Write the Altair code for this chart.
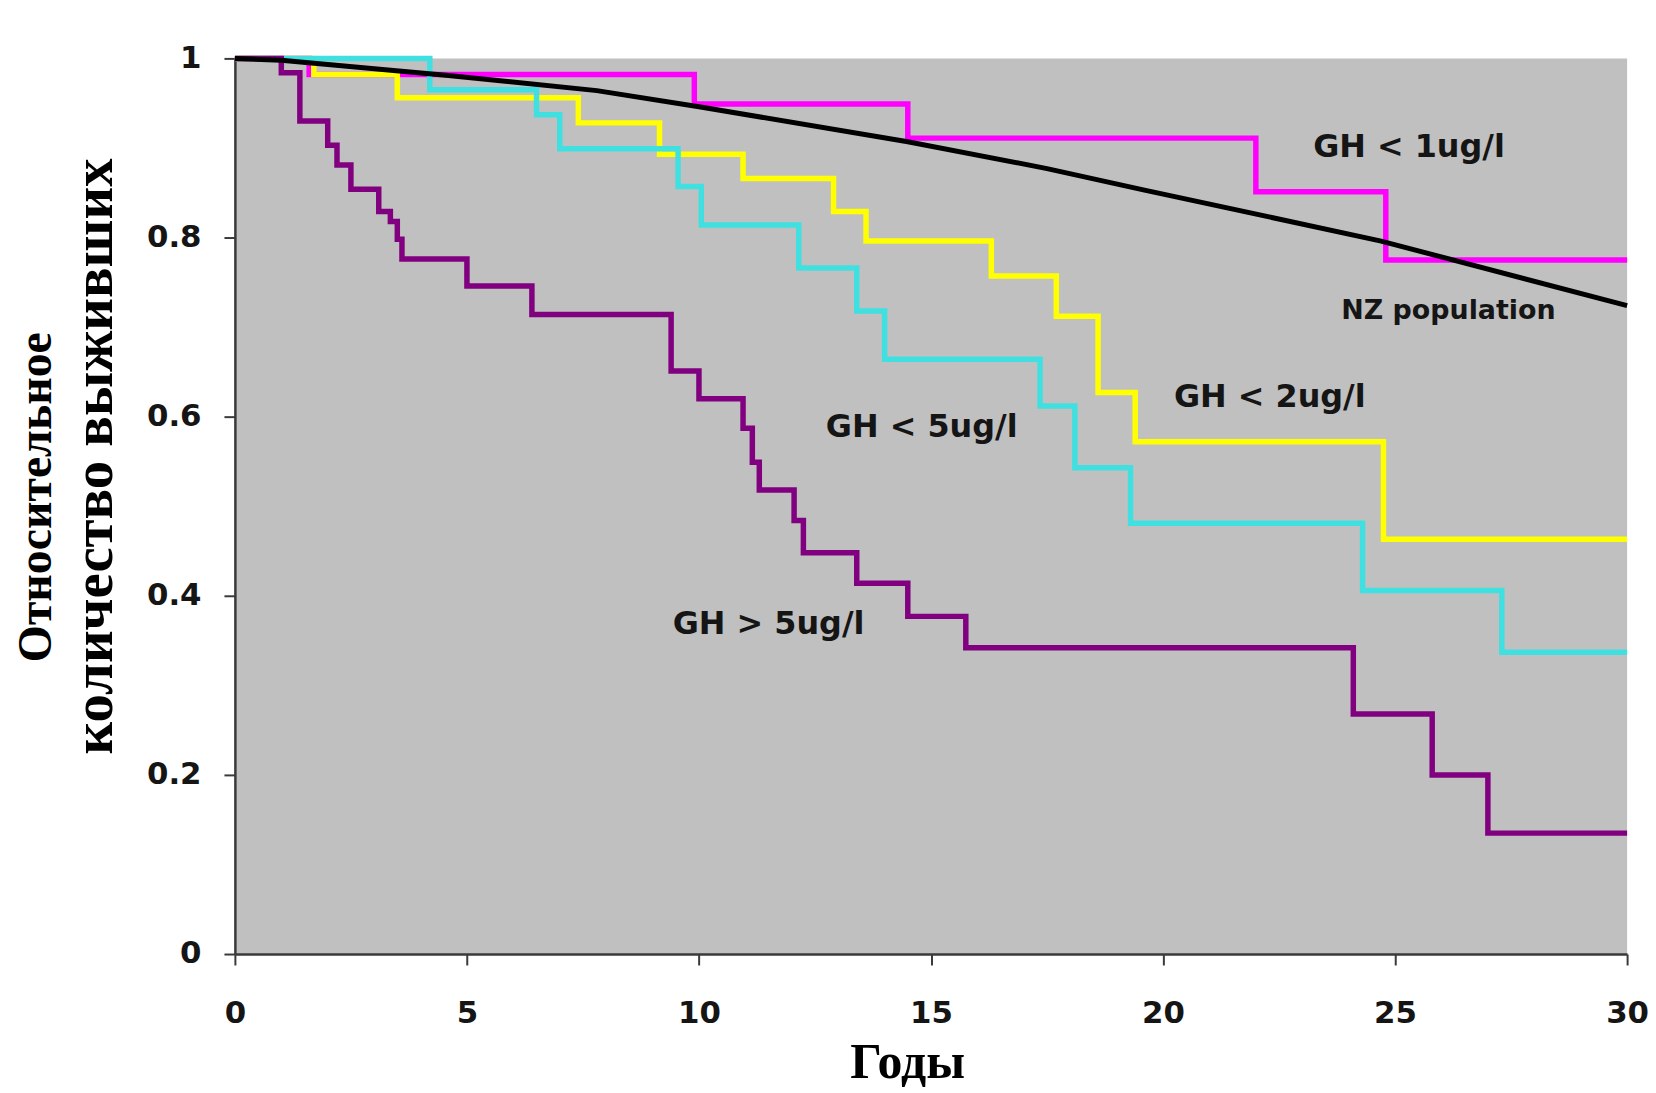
import altair as alt
import pandas as pd

# ---- data ----
series_names = ["GH < 1ug/l", "GH < 2ug/l", "GH < 5ug/l", "GH > 5ug/l"]
series_colors = ["#FF00FF", "#FFFF00", "#40E0E0", "#800080"]

years_gh1 = [0, 1.6, 9.9, 14.5, 22.0, 24.8, 30]
surv_gh1 = [1.0, 0.982, 0.949, 0.911, 0.851, 0.775, 0.775]

years_gh2 = [0, 1.7, 3.5, 7.4, 9.15, 10.95, 12.9, 13.6, 16.3, 17.7, 18.6, 19.4, 24.75, 30]
surv_gh2 = [1.0, 0.982, 0.956, 0.928, 0.893, 0.866, 0.829, 0.796, 0.757, 0.712, 0.627, 0.572, 0.463, 0.463]

years_gh5 = [0, 4.2, 6.5, 7.0, 9.55, 10.05, 12.15, 13.4, 14.0, 17.35, 18.1, 19.3, 24.3, 27.3, 30]
surv_gh5 = [1.0, 0.965, 0.937, 0.899, 0.857, 0.814, 0.766, 0.718, 0.664, 0.612, 0.543, 0.481, 0.406, 0.337, 0.337]

years_gt5 = [0, 1.0, 1.4, 2.0, 2.2, 2.5, 3.1, 3.35, 3.5, 3.6, 5.0, 6.4, 9.4, 10.0, 10.95,
             11.15, 11.3, 12.05, 12.25, 13.4, 14.5, 15.75, 24.1, 25.8, 27.0, 30]
surv_gt5 = [1.0, 0.984, 0.93, 0.903, 0.881, 0.854, 0.829, 0.818, 0.798, 0.776, 0.746, 0.714, 0.651, 0.62, 0.587,
            0.549, 0.518, 0.484, 0.448, 0.414, 0.377, 0.342, 0.268, 0.2, 0.135, 0.135]

years_nz = [0, 1, 4.6, 7.8, 10, 14.5, 17.5, 19.6, 24.7, 30]
surv_nz = [1.0, 0.998, 0.981, 0.964, 0.946, 0.907, 0.877, 0.853, 0.796, 0.724]

gh_label_text = ["GH < 1ug/l", "GH < 2ug/l", "GH < 5ug/l", "GH > 5ug/l"]
gh_label_x = [25.3, 22.3, 14.8, 11.5]
gh_label_y = [0.901, 0.622, 0.588, 0.368]
nz_label_text = ["NZ population"]
nz_label_x = [26.15]
nz_label_y = [0.718]

x_ticks = [0, 5, 10, 15, 20, 25, 30]
y_ticks = [0, 0.2, 0.4, 0.6, 0.8, 1]
x_title = "Годы"
y_title_lines = ["Относительное", "количество выживших"]

# ---- tables ----
rows = []
for name, xs_, ys_ in zip(series_names,
                          [years_gh1, years_gh2, years_gh5, years_gt5],
                          [surv_gh1, surv_gh2, surv_gh5, surv_gt5]):
    for i, (a, b) in enumerate(zip(xs_, ys_)):
        rows.append({"series": name, "year": a, "surv": b, "i": i})
steps_df = pd.DataFrame(rows)
nz_df = pd.DataFrame({"year": years_nz, "surv": surv_nz})
gh_lab_df = pd.DataFrame({"t": gh_label_text, "year": gh_label_x, "surv": gh_label_y})
nz_lab_df = pd.DataFrame({"t": nz_label_text, "year": nz_label_x, "surv": nz_label_y})

xs = alt.Scale(domain=[0, 30], nice=False)
ys = alt.Scale(domain=[0, 1], nice=False)
x_axis = alt.Axis(values=x_ticks, title=None, grid=False, labelFlush=False,
                  labelPadding=34, tickSize=11)
y_axis = alt.Axis(values=y_ticks, title=None, grid=False, labelFlush=False, format="~g",
                  labelPadding=23, tickSize=11)


def X():
    return alt.X("year:Q", scale=xs, axis=x_axis)


def Y():
    return alt.Y("surv:Q", scale=ys, axis=y_axis)


steps = alt.Chart(steps_df).mark_line(interpolate="step-after", strokeWidth=5.5).encode(
    x=X(), y=Y(),
    color=alt.Color("series:N", scale=alt.Scale(domain=series_names, range=series_colors), legend=None),
    order="i:Q",
)

nz = alt.Chart(nz_df).mark_line(color="black", strokeWidth=5).encode(x=X(), y=Y())

gh_labels = alt.Chart(gh_lab_df).mark_text(
    font="DejaVu Sans", fontWeight="bold", fontSize=32, color="#151515",
    align="center", baseline="middle").encode(x=X(), y=Y(), text="t:N")

nz_labels = alt.Chart(nz_lab_df).mark_text(
    font="DejaVu Sans", fontWeight="bold", fontSize=27, color="#151515",
    align="center", baseline="middle").encode(x=X(), y=Y(), text="t:N")

serif = dict(font="Liberation Serif", fontWeight="bold", color="black")

ytitle1 = alt.Chart(pd.DataFrame({"t": [y_title_lines[0]]})).mark_text(
    angle=270, align="center", baseline="alphabetic", fontSize=48, **serif).encode(
    x=alt.value(-185), y=alt.value(441), text="t:N")
ytitle2 = alt.Chart(pd.DataFrame({"t": [y_title_lines[1]]})).mark_text(
    angle=270, align="center", baseline="alphabetic", fontSize=57, **serif).encode(
    x=alt.value(-123), y=alt.value(400), text="t:N")
xtitle = alt.Chart(pd.DataFrame({"t": [x_title]})).mark_text(
    align="center", baseline="alphabetic", fontSize=50, **serif).encode(
    x=alt.value(676), y=alt.value(1025), text="t:N")

chart = alt.layer(steps, nz, gh_labels, nz_labels, ytitle1, ytitle2, xtitle).properties(
    width=1399, height=900,
    autosize=alt.AutoSizeParams(type="none"),
    padding={"left": 228, "top": 48, "right": 21, "bottom": 137},
    background="white",
).configure_view(fill="#C0C0C0", strokeWidth=0).configure_axis(
    domainColor="#3a3a3a", domainWidth=2.5, tickColor="#3a3a3a", tickWidth=2,
    labelFont="DejaVu Sans", labelFontWeight="bold", labelFontSize=31, labelColor="#151515",
)

chart.save("out.html", embed_options={"renderer": "svg", "actions": False})
